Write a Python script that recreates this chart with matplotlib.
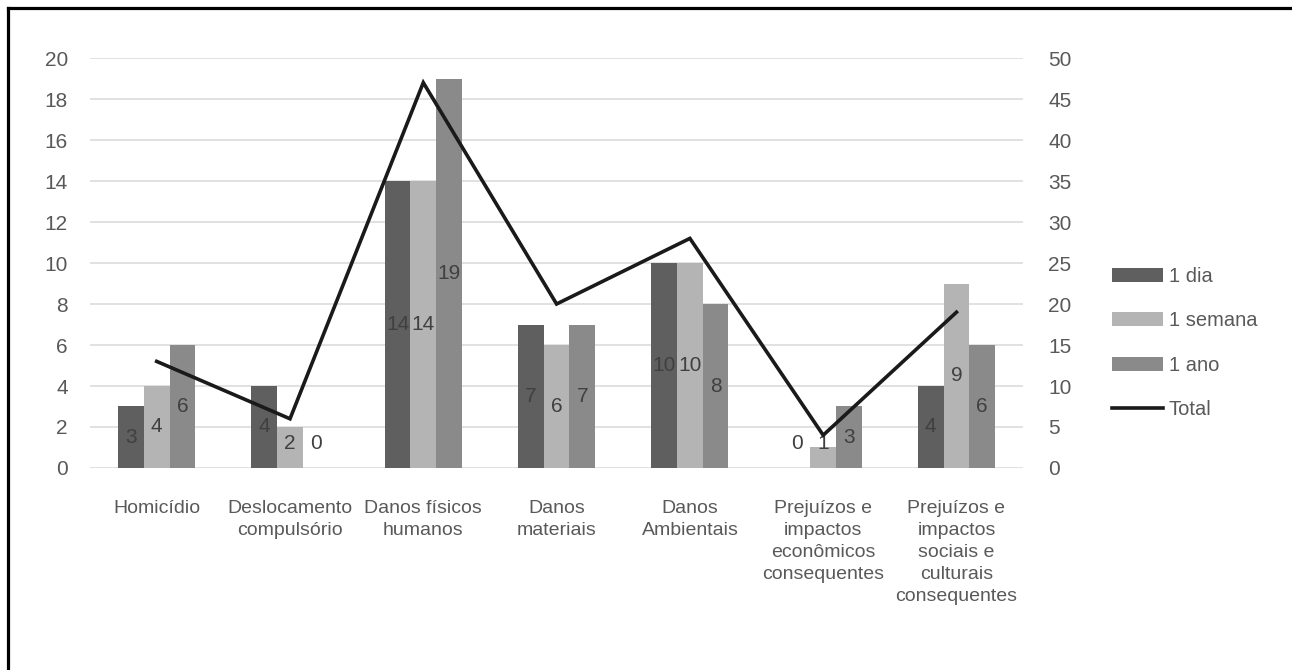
import matplotlib.pyplot as plt
from matplotlib.lines import Line2D
import numpy as np

categorias = ['Homicídio', 'Deslocamento\ncompulsório', 'Danos físicos\nhumanos',
              'Danos\nmateriais', 'Danos\nAmbientais',
              'Prejuízos e\nimpactos\neconômicos\nconsequentes',
              'Prejuízos e\nimpactos\nsociais e\nculturais\nconsequentes']
um_dia = [3, 4, 14, 7, 10, 0, 4]
uma_semana = [4, 2, 14, 6, 10, 1, 9]
um_ano = [6, 0, 19, 7, 8, 3, 6]
total = [13, 6, 47, 20, 28, 4, 19]

series = [('1 dia', um_dia, '#5f5f5f'),
          ('1 semana', uma_semana, '#b4b4b4'),
          ('1 ano', um_ano, '#8a8a8a')]

fonte = ['Liberation Sans', 'DejaVu Sans']
cor_texto = '#595959'

fig = plt.figure(figsize=(12.92, 6.70), dpi=100)
ax = fig.add_axes([0.0697, 0.3015, 0.7222, 0.6119])
ax2 = ax.twinx()

x = np.arange(len(categorias))
larg = 0.193

for i, (nome, vals, cor) in enumerate(series):
    pos = x + (i - 1) * larg
    ax.bar(pos, vals, width=larg, color=cor, label=nome, zorder=2)
    for px, v in zip(pos, vals):
        # rotulos pequenos sobem um pouco para caber
        ax.text(px, max(v / 2, 1.2), str(v), ha='center', va='center',
                fontsize=15, color='#404040', family=fonte, zorder=3)

ax2.plot(x, total, color='#1a1a1a', lw=2.6, label='Total', solid_joinstyle='miter')

ax.set_xlim(-0.5, len(categorias) - 0.5)
ax.set_ylim(0, 20)
ax.set_yticks(range(0, 21, 2))
ax2.set_ylim(0, 50)
ax2.set_yticks(range(0, 51, 5))
ax.yaxis.grid(True, color='#d9d9d9', lw=1.1, zorder=0)
ax.set_axisbelow(True)

ax.set_xticks(x)
ax.set_xticklabels(categorias, fontsize=14, color=cor_texto, family=fonte,
                   linespacing=1.38)
ax.tick_params(axis='x', length=0, pad=23)
ax.tick_params(axis='y', length=0, pad=16, labelsize=15, labelcolor=cor_texto)
ax2.tick_params(axis='y', length=0, pad=18, labelsize=15, labelcolor=cor_texto)
for lab in ax.get_yticklabels() + ax2.get_yticklabels():
    lab.set_family(fonte)

for a in (ax, ax2):
    for s in a.spines.values():
        s.set_visible(False)

h1, l1 = ax.get_legend_handles_labels()
h2, l2 = ax2.get_legend_handles_labels()
fig.legend(h1 + h2, l1 + l2, loc='center left', bbox_to_anchor=(0.861, 0.488),
           frameon=False, borderpad=0, borderaxespad=0, handlelength=2.5,
           handleheight=0.7, handletextpad=0.3, labelspacing=1.25,
           prop={'family': fonte, 'size': 14.5}, labelcolor=cor_texto)

# moldura superior e esquerda
fig.add_artist(Line2D([0.0065, 0.0065], [0, 0.988], color='black', lw=2.3))
fig.add_artist(Line2D([0.0065, 1], [0.988, 0.988], color='black', lw=2.3))

fig.savefig('out.png', dpi=100)
